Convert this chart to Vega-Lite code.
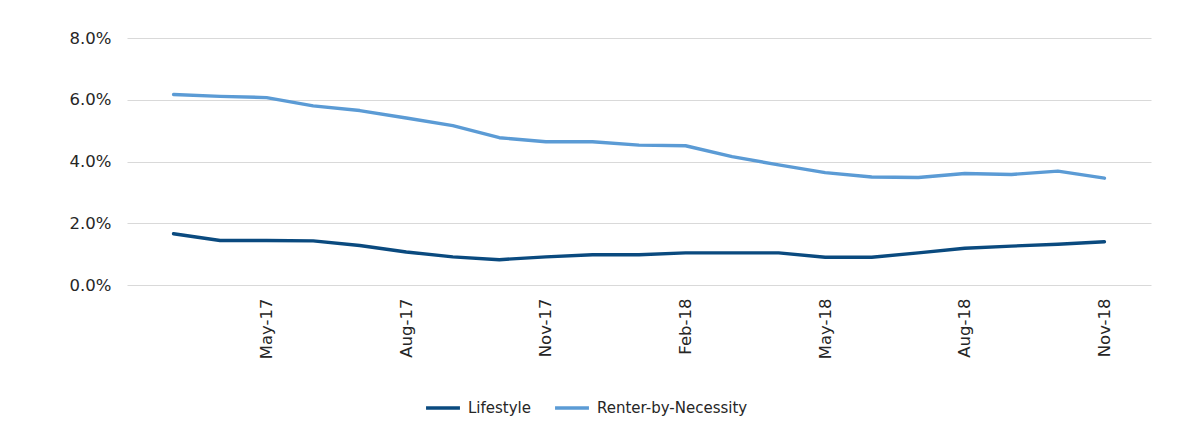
{
  "$schema": "https://vega.github.io/schema/vega-lite/v6.json",
  "width": 1024,
  "height": 247,
  "autosize": {"type": "none"},
  "padding": {"left": 127, "top": 38, "right": 46, "bottom": 144},
  "background": "white",
  "config": {
    "view": {"stroke": null},
    "font": "DejaVu Sans"
  },
  "datasets": {
    "rates": [
      {"month": "Mar-17", "Lifestyle": 0.0166, "Renter-by-Necessity": 0.0617},
      {"month": "Apr-17", "Lifestyle": 0.0144, "Renter-by-Necessity": 0.0611},
      {"month": "May-17", "Lifestyle": 0.0144, "Renter-by-Necessity": 0.0607},
      {"month": "Jun-17", "Lifestyle": 0.0143, "Renter-by-Necessity": 0.0580},
      {"month": "Jul-17", "Lifestyle": 0.0128, "Renter-by-Necessity": 0.0565},
      {"month": "Aug-17", "Lifestyle": 0.0107, "Renter-by-Necessity": 0.0541},
      {"month": "Sep-17", "Lifestyle": 0.0091, "Renter-by-Necessity": 0.0516},
      {"month": "Oct-17", "Lifestyle": 0.0082, "Renter-by-Necessity": 0.0477},
      {"month": "Nov-17", "Lifestyle": 0.0091, "Renter-by-Necessity": 0.0464},
      {"month": "Dec-17", "Lifestyle": 0.0098, "Renter-by-Necessity": 0.0464},
      {"month": "Jan-18", "Lifestyle": 0.0098, "Renter-by-Necessity": 0.0453},
      {"month": "Feb-18", "Lifestyle": 0.0104, "Renter-by-Necessity": 0.0451},
      {"month": "Mar-18", "Lifestyle": 0.0104, "Renter-by-Necessity": 0.0416},
      {"month": "Apr-18", "Lifestyle": 0.0104, "Renter-by-Necessity": 0.0389},
      {"month": "May-18", "Lifestyle": 0.0090, "Renter-by-Necessity": 0.0364},
      {"month": "Jun-18", "Lifestyle": 0.0090, "Renter-by-Necessity": 0.0350},
      {"month": "Jul-18", "Lifestyle": 0.0104, "Renter-by-Necessity": 0.0348},
      {"month": "Aug-18", "Lifestyle": 0.0119, "Renter-by-Necessity": 0.0361},
      {"month": "Sep-18", "Lifestyle": 0.0126, "Renter-by-Necessity": 0.0358},
      {"month": "Oct-18", "Lifestyle": 0.0132, "Renter-by-Necessity": 0.0369},
      {"month": "Nov-18", "Lifestyle": 0.0140, "Renter-by-Necessity": 0.0346}
    ]
  },
  "data": {"name": "rates"},
  "transform": [
    {"fold": ["Lifestyle", "Renter-by-Necessity"], "as": ["series", "rate"]}
  ],
  "mark": {"type": "line", "strokeWidth": 3.4, "strokeCap": "round", "strokeJoin": "round"},
  "encoding": {
    "x": {
      "field": "month",
      "type": "ordinal",
      "sort": null,
      "scale": {"type": "point", "padding": 1},
      "axis": {
        "title": null,
        "values": ["May-17", "Aug-17", "Nov-17", "Feb-18", "May-18", "Aug-18", "Nov-18"],
        "labelAngle": -90,
        "labelAlign": "right",
        "labelBaseline": "middle",
        "labelPadding": 13,
        "labelFontSize": 16.5,
        "labelColor": "#262626",
        "ticks": false,
        "domain": false,
        "grid": false
      }
    },
    "y": {
      "field": "rate",
      "type": "quantitative",
      "scale": {"domain": [0, 0.08]},
      "axis": {
        "title": null,
        "values": [0, 0.02, 0.04, 0.06, 0.08],
        "format": ".1%",
        "labelFontSize": 16.5,
        "labelColor": "#262626",
        "labelPadding": 16,
        "ticks": false,
        "domain": false,
        "gridColor": "#d9d9d9",
        "gridWidth": 1
      }
    },
    "color": {
      "field": "series",
      "type": "nominal",
      "scale": {"domain": ["Lifestyle", "Renter-by-Necessity"], "range": ["#0a4a7f", "#5b9bd5"]},
      "legend": {
        "title": null,
        "orient": "none",
        "direction": "horizontal",
        "legendX": 297,
        "legendY": 351,
        "symbolType": "stroke",
        "symbolSize": 1150,
        "symbolStrokeWidth": 3.4,
        "labelFontSize": 15,
        "labelColor": "#262626",
        "columnPadding": 16,
        "labelOffset": 6
      }
    }
  }
}
